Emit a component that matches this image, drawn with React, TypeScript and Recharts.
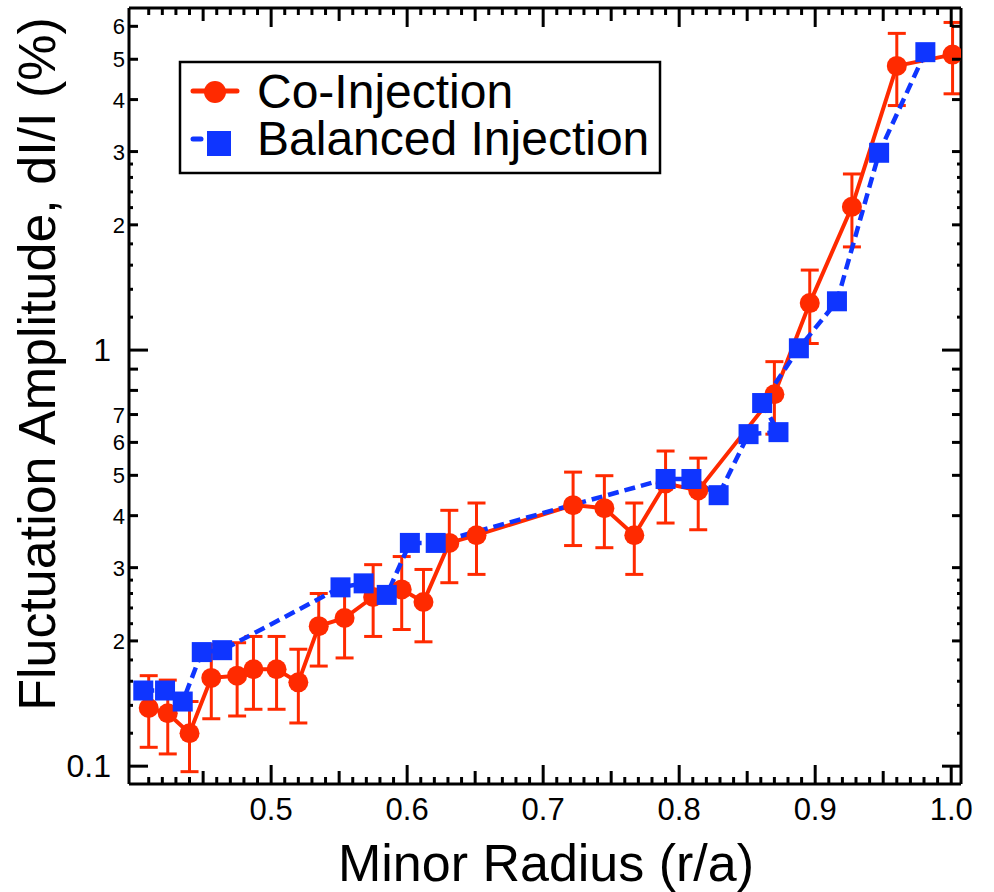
import React from 'react';
import { LineChart, Line, XAxis, YAxis, ErrorBar } from 'recharts';

// ---------------- data ----------------
const coRadius = [0.410, 0.424, 0.440, 0.456, 0.475, 0.487, 0.504, 0.520, 0.535, 0.554, 0.575, 0.596, 0.612, 0.631, 0.651, 0.722, 0.745, 0.767, 0.790, 0.814, 0.870, 0.896, 0.927, 0.960, 1.001];
const coAmplitude = [0.138, 0.134, 0.120, 0.163, 0.165, 0.171, 0.171, 0.159, 0.217, 0.227, 0.255, 0.266, 0.248, 0.344, 0.359, 0.424, 0.417, 0.359, 0.478, 0.460, 0.783, 1.297, 2.21, 4.82, 5.13];
const coError = [0.027, 0.027, 0.023, 0.033, 0.033, 0.034, 0.034, 0.032, 0.043, 0.045, 0.050, 0.053, 0.049, 0.068, 0.070, 0.085, 0.082, 0.070, 0.094, 0.090, 0.155, 0.26, 0.44, 0.95, 1.0];

const balRadius = [0.406, 0.422, 0.435, 0.449, 0.464, 0.551, 0.568, 0.585, 0.602, 0.621, 0.790, 0.809, 0.829, 0.851, 0.873, 0.861, 0.888, 0.916, 0.947, 0.981];
const balAmplitude = [0.152, 0.152, 0.143, 0.188, 0.190, 0.269, 0.275, 0.258, 0.344, 0.344, 0.490, 0.490, 0.448, 0.628, 0.635, 0.746, 1.01, 1.31, 2.98, 5.2];

const seriesNames = ['Co-Injection', 'Balanced Injection'];

// ---------------- ticks ----------------
const xLabeledTicks = [0.5, 0.6, 0.7, 0.8, 0.9, 1.0];
const xTickLabels = ['0.5', '0.6', '0.7', '0.8', '0.9', '1.0'];
const xMidTicks = [0.45, 0.55, 0.65, 0.75, 0.85, 0.95];
const xMinorTicks: number[] = [];
for (let i = 41; i < 100; i++) {
  if (i % 5 !== 0) xMinorTicks.push(i / 100);
}

const yDecadeTicks = [0.1, 1];
const yDecadeLabels = ['0.1', '1'];
const yMidTicks = [0.2, 0.3, 0.4, 0.5, 0.6, 0.7, 0.8, 0.9, 2, 3, 4, 5, 6];
const yMidLabels = ['2', '3', '4', '5', '6', '7', '', '', '2', '3', '4', '5', '6'];
const ySmallTicks = [0.12, 0.14, 0.16, 0.18, 0.22, 0.24, 0.26, 0.28, 1.2, 1.4, 1.6, 1.8, 2.2, 2.4, 2.6, 2.8];

const xTitle = 'Minor Radius (r/a)';
const yTitle = 'Fluctuation Amplitude, dI/I (%)';

// ---------------- layout / style ----------------
const W = 994;
const H = 892;
const PL = 129;
const PR = 961;
const PT = 8;
const PB = 784;
const X_DOMAIN: [number, number] = [0.3955, 1.0072];
const Y_DOMAIN: [number, number] = [0.0906, 6.64];
const RED = '#ff2a00';
const BLUE = '#0f35ff';
const FONT = '"Liberation Sans", Arial, Helvetica, sans-serif';

const allXTicks = [...xMinorTicks, ...xMidTicks, ...xLabeledTicks].sort((a, b) => a - b);
const allYTicks = [...ySmallTicks, ...yMidTicks, ...yDecadeTicks].sort((a, b) => a - b);

const near = (a: number, b: number) => Math.abs(a - b) < 1e-6;
const idxOf = (arr: number[], v: number) => arr.findIndex((t) => near(t, v));

const coData = coRadius.map((x, i) => ({ x, y: coAmplitude[i], err: coError[i] }));
const balData = balRadius.map((x, i) => ({ x, y: balAmplitude[i] }));

function xLen(v: number) {
  if (idxOf(xLabeledTicks, v) >= 0) return 19;
  if (idxOf(xMidTicks, v) >= 0) return 13;
  return 7;
}
function yLen(v: number) {
  if (idxOf(yDecadeTicks, v) >= 0) return 19;
  if (idxOf(yMidTicks, v) >= 0) return 9;
  return 4;
}

const BottomTick = (props: any) => {
  const { x, payload } = props;
  const v = payload.value;
  const li = idxOf(xLabeledTicks, v);
  return (
    <g>
      <line x1={x} x2={x} y1={PB} y2={PB - xLen(v)} stroke="#000" strokeWidth={3} />
      {li >= 0 && (
        <text x={x} y={PB + 36} textAnchor="middle" fontSize={31} fontFamily={FONT} fill="#000">
          {xTickLabels[li]}
        </text>
      )}
    </g>
  );
};

const TopTick = (props: any) => {
  const { x, payload } = props;
  const v = payload.value;
  return <line x1={x} x2={x} y1={PT} y2={PT + xLen(v)} stroke="#000" strokeWidth={3} />;
};

const LeftTick = (props: any) => {
  const { y, payload } = props;
  const v = payload.value;
  const di = idxOf(yDecadeTicks, v);
  const mi = idxOf(yMidTicks, v);
  return (
    <g>
      <line x1={PL} x2={PL + yLen(v)} y1={y} y2={y} stroke="#000" strokeWidth={3} />
      {di >= 0 && (
        <text x={111} y={y + 11} textAnchor="end" fontSize={32} fontFamily={FONT} fill="#000">
          {yDecadeLabels[di]}
        </text>
      )}
      {mi >= 0 && yMidLabels[mi] !== '' && (
        <text x={125} y={y + 8} textAnchor="end" fontSize={22} fontFamily={FONT} fill="#000">
          {yMidLabels[mi]}
        </text>
      )}
    </g>
  );
};

const RightTick = (props: any) => {
  const { y, payload } = props;
  const v = payload.value;
  return <line x1={PR} x2={PR - yLen(v)} y1={y} y2={y} stroke="#000" strokeWidth={3} />;
};

const SquareDot = (props: any) => {
  const { cx, cy, index } = props;
  if (cx == null || cy == null) return <g key={`sq-${index}`} />;
  return <rect key={`sq-${index}`} x={cx - 10} y={cy - 10} width={20} height={20} fill={BLUE} />;
};

const axisLine = { stroke: '#000', strokeWidth: 3 };

export default function App() {
  return (
    <div style={{ position: 'absolute', left: 0, top: 0, width: W, height: H, background: '#fff' }}>
      <LineChart width={W} height={H} margin={{ top: PT - 1, right: W - PR - 1, bottom: H - PB - 1, left: PL - 1 }}>
        <XAxis
          xAxisId="b"
          type="number"
          dataKey="x"
          orientation="bottom"
          domain={X_DOMAIN}
          allowDataOverflow
          ticks={allXTicks}
          interval={0}
          tick={BottomTick}
          tickLine={false}
          axisLine={axisLine}
          height={1}
        />
        <XAxis
          xAxisId="t"
          type="number"
          dataKey="x"
          orientation="top"
          domain={X_DOMAIN}
          allowDataOverflow
          ticks={allXTicks}
          interval={0}
          tick={TopTick}
          tickLine={false}
          axisLine={axisLine}
          height={1}
        />
        <YAxis
          yAxisId="l"
          type="number"
          scale="log"
          orientation="left"
          domain={Y_DOMAIN}
          allowDataOverflow
          ticks={allYTicks}
          interval={0}
          tick={LeftTick}
          tickLine={false}
          axisLine={axisLine}
          width={1}
        />
        <YAxis
          yAxisId="r"
          type="number"
          scale="log"
          orientation="right"
          domain={Y_DOMAIN}
          allowDataOverflow
          ticks={allYTicks}
          interval={0}
          tick={RightTick}
          tickLine={false}
          axisLine={axisLine}
          width={1}
        />
        <Line
          xAxisId="b"
          yAxisId="l"
          data={coData}
          dataKey="y"
          name={seriesNames[0]}
          stroke={RED}
          strokeWidth={4}
          dot={{ r: 10, fill: RED, stroke: RED, strokeWidth: 0 }}
          activeDot={false}
          isAnimationActive={false}
        >
          <ErrorBar dataKey="err" direction="y" width={9} stroke={RED} strokeWidth={3} isAnimationActive={false} />
        </Line>
        <Line
          xAxisId="b"
          yAxisId="l"
          data={balData}
          dataKey="y"
          name={seriesNames[1]}
          stroke={BLUE}
          strokeWidth={4.5}
          strokeDasharray="11 6"
          dot={SquareDot}
          activeDot={false}
          isAnimationActive={false}
        />
      </LineChart>
      <svg
        width={W}
        height={H}
        style={{ position: 'absolute', left: 0, top: 0, pointerEvents: 'none' }}
        fontFamily={FONT}
      >
        <text x={546} y={881} textAnchor="middle" fontSize={52} fill="#000">
          {xTitle}
        </text>
        <text x={55} y={364} textAnchor="middle" fontSize={52} fill="#000" transform="rotate(-90 55 364)">
          {yTitle}
        </text>
        <rect x={180} y={62} width={480} height={111} fill="#fff" stroke="#000" strokeWidth={2.5} />
        <line x1={193} x2={237} y1={91} y2={91} stroke={RED} strokeWidth={5} strokeLinecap="round" />
        <circle cx={215} cy={92} r={11} fill={RED} />
        <text x={257} y={108} fontSize={48} fill="#000">
          {seriesNames[0]}
        </text>
        <line x1={193} x2={201} y1={139} y2={139} stroke={BLUE} strokeWidth={5} strokeLinecap="round" />
        <rect x={207} y={131} width={24} height={25} fill={BLUE} />
        <text x={257} y={155} fontSize={48} fill="#000">
          {seriesNames[1]}
        </text>
      </svg>
    </div>
  );
}
